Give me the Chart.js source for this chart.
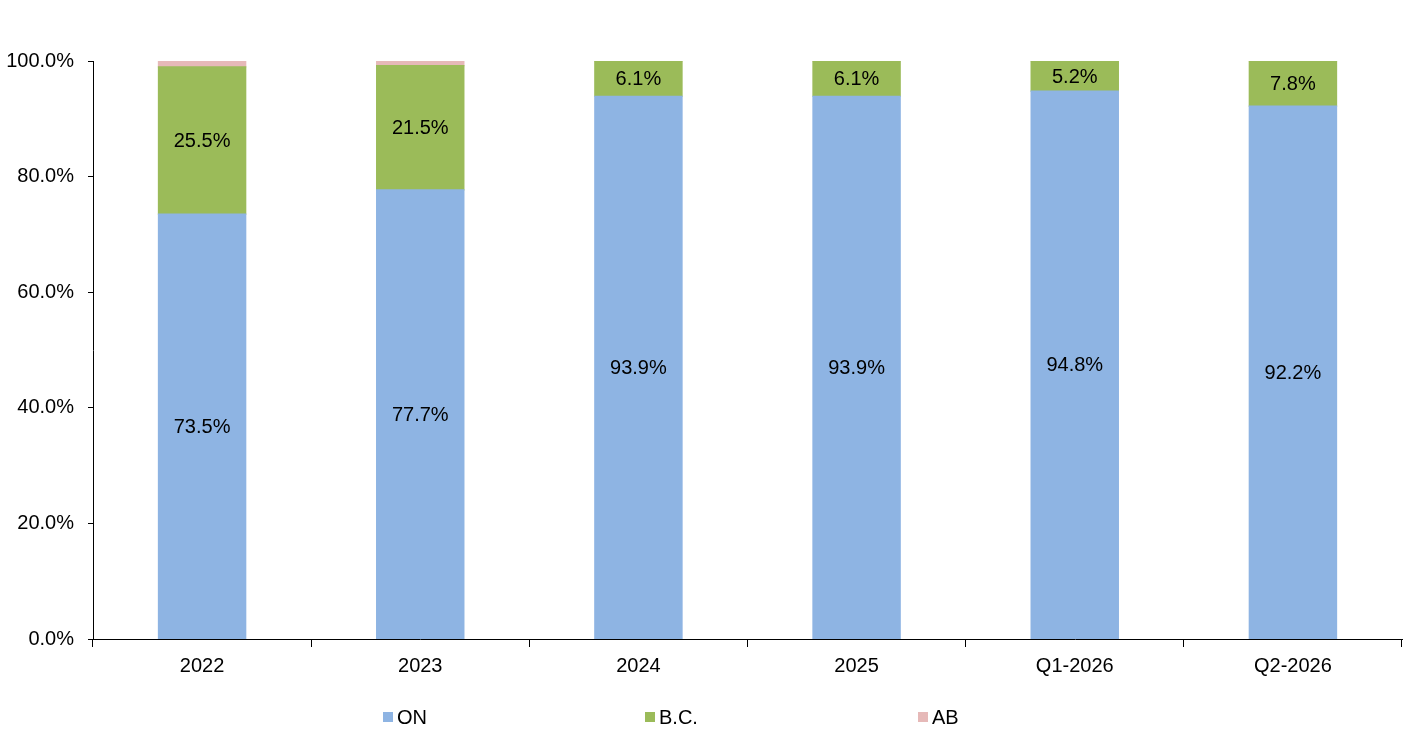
<!DOCTYPE html>
<html><head><meta charset="utf-8">
<script src="https://cdn.jsdelivr.net/npm/chart.js@4"></script>
<style>html,body{margin:0;padding:0;background:#fff}#wrap{width:1403px;height:741px}</style>
</head><body><div id="wrap"><canvas id="c" width="1403" height="741"></canvas></div>
<script>
const categories = ["2022","2023","2024","2025","Q1-2026","Q2-2026"];
const onValues = [73.5,77.7,93.9,93.9,94.8,92.2];
const bcValues = [25.5,21.5,6.1,6.1,5.2,7.8];
const abValues = [1.0,0.8,0,0,0,0];
const yTicks = [0,20,40,60,80,100];
const seriesNames = ["ON","B.C.","AB"];
const seriesColors = ["#8EB4E3","#9BBB59","#E6B9B8"];
const FONT = "'Liberation Sans', Arial, sans-serif";

const labelPlugin = {
  id:'lbl',
  afterDatasetsDraw(chart){
    const ctx = chart.ctx;
    ctx.save();
    ctx.font = "20px " + FONT;
    ctx.fillStyle = "#000";
    ctx.textAlign = "center";
    ctx.textBaseline = "middle";
    [0,1].forEach(di=>{
      const meta = chart.getDatasetMeta(di);
      meta.data.forEach((el,i)=>{
        const v = chart.data.datasets[di].data[i];
        if(!v) return;
        const y = (el.y + el.base)/2;
        ctx.fillText(v.toFixed(1)+"%", el.x, y+1);
      });
    });
    ctx.restore();
  }
};
const legendPlugin = {
  id:'leg',
  afterDraw(chart){
    const ctx = chart.ctx;
    ctx.save();
    ctx.font = "20px " + FONT;
    ctx.textBaseline = "middle";
    ctx.textAlign = "left";
    const xs = [383,645,918];
    chart.data.datasets.forEach((ds,i)=>{
      ctx.fillStyle = ds.backgroundColor;
      ctx.fillRect(xs[i], 712, 10, 10);
      ctx.fillStyle = "#000";
      ctx.fillText(ds.label, xs[i]+14, 718);
    });
    ctx.restore();
  }
};

new Chart(document.getElementById('c'),{
  type:'bar',
  data:{
    labels:categories,
    datasets:[
      {label:seriesNames[0],data:onValues,backgroundColor:seriesColors[0]},
      {label:seriesNames[1],data:bcValues,backgroundColor:seriesColors[1]},
      {label:seriesNames[2],data:abValues,backgroundColor:seriesColors[2]}
    ]
  },
  options:{
    responsive:false,animation:false,
    layout:{padding:{top:61,right:1,left:0,bottom:0}},
    datasets:{bar:{categoryPercentage:0.4,barPercentage:1.0,borderWidth:0,inflateAmount:0.6}},
    plugins:{legend:{display:false},tooltip:{enabled:false}},
    scales:{
      x:{stacked:true,
        grid:{display:true,drawOnChartArea:false,offset:true,color:'#000',tickLength:8,lineWidth:1},
        border:{display:true,color:'#000',width:1},
        ticks:{color:'#000',font:{family:FONT,size:20},padding:7,maxRotation:0},
        afterFit(s){s.height=102;}
      },
      y:{stacked:true,min:0,max:100,
        afterBuildTicks(s){s.ticks=yTicks.map(v=>({value:v}));},
        grid:{display:true,drawOnChartArea:false,color:'#000',tickLength:5},
        border:{display:true,color:'#000',width:1},
        ticks:{color:'#000',font:{family:FONT,size:20},padding:14,callback:v=>v.toFixed(1)+"%"},
        afterFit(s){s.width=93;}
      }
    }
  },
  plugins:[labelPlugin,legendPlugin]
});
</script></body></html>
